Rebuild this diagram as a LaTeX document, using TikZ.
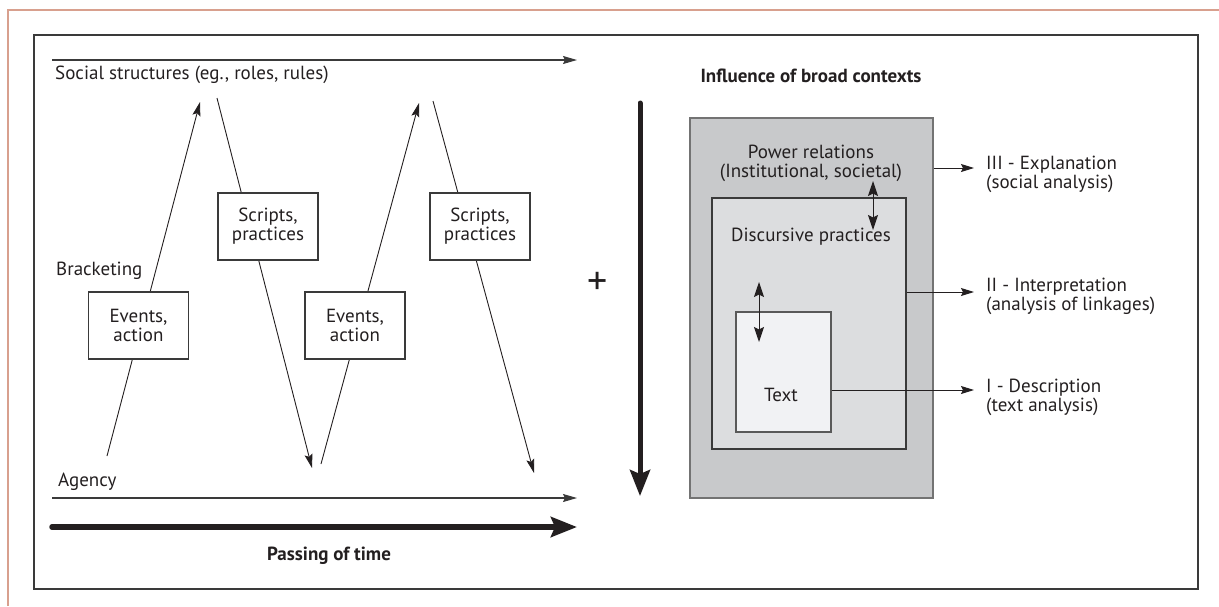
\documentclass[tikz,border=0pt]{standalone}
\usepackage{fontspec}
\setmainfont{PT Sans}
\usetikzlibrary{arrows.meta}

\definecolor{ink}{HTML}{231F20}
\definecolor{rule}{HTML}{3A3A3A}
\definecolor{trim}{HTML}{D8A08E}
\definecolor{outerfill}{HTML}{C8C9CB}
\definecolor{midfill}{HTML}{DCDDDF}
\definecolor{innerfill}{HTML}{F1F2F4}

\newcommand{\bodysize}{\fontsize{19}{19}\selectfont}

\begin{document}
\begin{tikzpicture}[x=1pt,y=-1pt,
  every node/.style={font=\bodysize, inner sep=0pt, text=ink},
  thin arrow/.style={draw=ink, line width=0.9pt, -{Stealth[length=14pt,width=8pt,inset=2.5pt]}},
  axis arrow/.style={draw=rule, line width=1.1pt, -{Stealth[length=14pt,width=8pt,inset=2pt]}},
  heavy arrow/.style={draw=ink, line width=5.5pt, line cap=round, -{Stealth[length=26pt,width=20pt,inset=4pt]}},
  twin arrow/.style={draw=ink, line width=1pt, {Stealth[length=15pt,width=10pt,inset=2.5pt]}-{Stealth[length=15pt,width=10pt,inset=2.5pt]}},
  side arrow/.style={draw=ink, line width=1pt, -{Stealth[length=13pt,width=8pt,inset=2pt]}},
  stepbox/.style={draw=rule, line width=1.1pt, fill=white, minimum width=100pt, minimum height=67pt, align=center},
  label/.style={align=left, anchor=west},
  heading/.style={font=\bodysize\bfseries}]

\useasboundingbox (0,0) rectangle (1219,606);

% page trim and outer frame
\draw[trim, line width=1.6pt] (8,606) -- (8,10) -- (1219,10);
\draw[rule, line width=1.4pt] (34,35) rectangle (1198,589);

% ---- structuration over time (left panel) ----
\coordinate (ssL) at (52,60);   \coordinate (ssR) at (577,60);
\coordinate (agL) at (52,498);  \coordinate (agR) at (577,498);
\coordinate (tmL) at (52,527);  \coordinate (tmR) at (577,527);

\draw[axis arrow] (ssL) -- (ssR);
\draw[axis arrow] (agL) -- (agR);
\draw[heavy arrow] (tmL) -- (tmR);

\node[anchor=west] (social) at (55,75) {Social structures (eg., roles, rules)};
\node[anchor=west] (bracket) at (56,271) {Bracketing};
\node[anchor=west] (agency) at (58,482) {Agency};
\node[heading] (time) at (329,556) {Passing of time};

% zig-zag between agency and structure
\coordinate (u1a) at (107,456); \coordinate (u1b) at (200,102);
\coordinate (d1a) at (217,98);  \coordinate (d1b) at (312,468);
\coordinate (u2a) at (321,464); \coordinate (u2b) at (419,103);
\coordinate (d2a) at (433,101); \coordinate (d2b) at (534,473);

\draw[thin arrow] (u1a) -- (u1b);
\draw[thin arrow] (d1a) -- (d1b);
\draw[thin arrow] (u2a) -- (u2b);
\draw[thin arrow] (d2a) -- (d2b);

\node[stepbox] (ev1) at (138.5,325.5) {Events,\\action};
\node[stepbox] (sc1) at (268,226.5) {Scripts,\\practices};
\node[stepbox] (ev2) at (355,325.5) {Events,\\action};
\node[stepbox] (sc2) at (480,226.5) {Scripts,\\practices};

% joining sign
\node[font=\fontsize{40}{40}\selectfont] (plus) at (598,283) {+};

% ---- nested levels of discourse (right panel) ----
\node[heading] (broad) at (811,76) {Influence of broad contexts};

\coordinate (ctxT) at (640,103); \coordinate (ctxB) at (640,496);
\draw[heavy arrow, line width=5pt] (ctxT) -- (ctxB);

\node[draw=black!55, line width=1.2pt, fill=outerfill, minimum width=243pt, minimum height=380pt] (power) at (811.5,308) {};
\node[draw=rule, line width=1.1pt, fill=midfill, minimum width=194pt, minimum height=251pt] (disc) at (809,323.5) {};
\node[draw=black!65, line width=1.1pt, fill=innerfill, minimum width=95pt, minimum height=120pt] (text) at (783.5,372) {};

\node[align=center] (powerlbl) at (811,163.5) {Power relations\\(Institutional, societal)};
\node (disclbl) at (811,237) {Discursive practices};
\node (textlbl) at (781,395) {Text};

\coordinate (pa) at (873,181); \coordinate (pb) at (873,230);
\draw[twin arrow] (pa) -- (pb);
\coordinate (ta) at (759,282); \coordinate (tb) at (759,342);
\draw[twin arrow] (ta) -- (tb);

% levels of analysis
\coordinate (e3) at (974,168);
\coordinate (e2) at (974,292);
\coordinate (e1) at (974,390);
\draw[side arrow] (power.east |- e3) -- (e3);
\draw[side arrow] (disc.east |- e2) -- (e2);
\draw[side arrow] (text.east |- e1) -- (e1);

\node[label] (lv3) at (986,174) {III - Explanation\\(social analysis)};
\node[label] (lv2) at (986,296.5) {II - Interpretation\\(analysis of linkages)};
\node[label] (lv1) at (986,397.5) {I - Description\\(text analysis)};

\end{tikzpicture}
\end{document}
